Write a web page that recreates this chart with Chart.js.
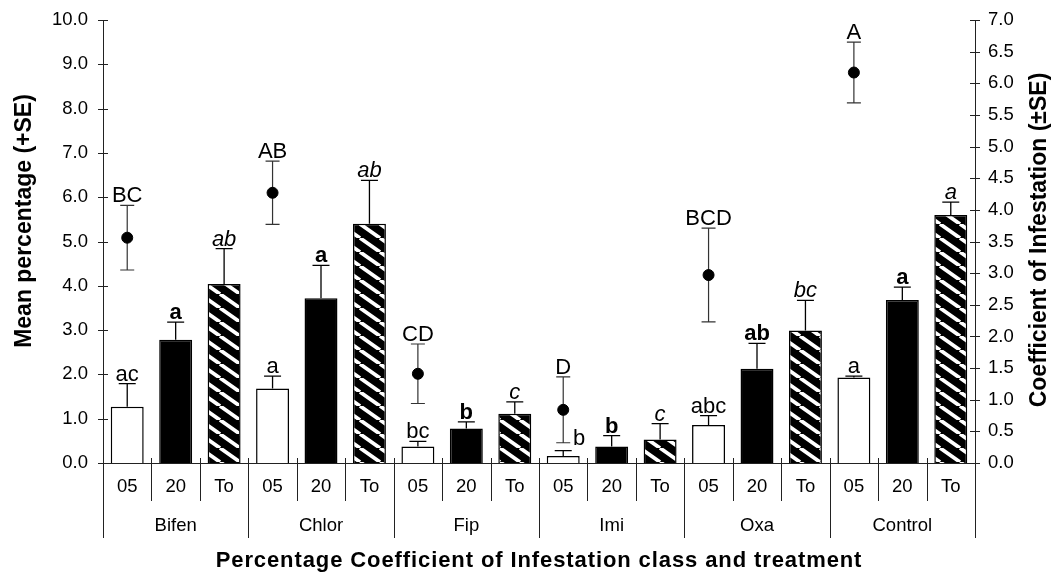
<!DOCTYPE html>
<html>
<head>
<meta charset="utf-8">
<script src="https://cdn.jsdelivr.net/npm/chart.js@4.4.1/dist/chart.umd.min.js"></script>
<style>
  body { margin: 0; background: #fff; }
  #wrap { width: 1054px; height: 577px; }
</style>
</head>
<body>
<div id="wrap"><canvas id="chart"></canvas></div>
<script>
// treatments and infestation classes
var treatments = ['Bifen', 'Chlor', 'Fip', 'Imi', 'Oxa', 'Control'];
var classes = ['05', '20', 'To'];

// mean percentage (left axis), one array per class
var mean05 = [1.27, 1.68, 0.37, 0.16, 0.86, 1.93];
var mean20 = [2.78, 3.72, 0.78, 0.37, 2.13, 3.68];
var meanTo = [4.04, 5.40, 1.11, 0.53, 2.99, 5.60];
var se05 = [0.52, 0.28, 0.12, 0.12, 0.21, 0.03];
var se20 = [0.40, 0.74, 0.15, 0.25, 0.57, 0.29];
var seTo = [0.80, 0.98, 0.27, 0.36, 0.68, 0.29];
var letters05 = ['ac', 'a', 'bc', 'b', 'abc', 'a'];
var letters20 = ['a', 'a', 'b', 'b', 'ab', 'a'];
var lettersTo = ['ab', 'ab', 'c', 'c', 'bc', 'a'];

// coefficient of infestation (right axis)
var coefMean = [3.56, 4.27, 1.41, 0.84, 2.97, 6.17];
var coefSE = [0.51, 0.50, 0.47, 0.52, 0.74, 0.48];
var coefLetters = ['BC', 'AB', 'CD', 'D', 'BCD', 'A'];

var leftTicks = { min: 0, max: 10, step: 1 };
var rightTicks = { min: 0, max: 7, step: 0.5 };

//build the 18 slot arrays
var labels = [], barVals = [], barErr = [], barLetters = [], barStyle = [], coefVals = [];
treatments.forEach(function (t, i) {
    var m = [mean05[i], mean20[i], meanTo[i]];
    var e = [se05[i], se20[i], seTo[i]];
    var l = [letters05[i], letters20[i], lettersTo[i]];
    classes.forEach(function (c, j) {
        labels.push(c);
        barVals.push(m[j]);
        barErr.push(e[j]);
        barLetters.push(l[j]);
        barStyle.push(j);
        coefVals.push(j == 0 ? coefMean[i] : null);
    });
});

function hatch() {
    var c = document.createElement('canvas');
    c.width = 20; c.height = 14;
    var g = c.getContext('2d');
    g.fillStyle = '#000';
    g.fillRect(0, 0, 20, 14);
    g.strokeStyle = '#fff';
    g.lineWidth = 3.8;
    g.beginPath();
    [-20, 0, 20].forEach(function (o) { g.moveTo(o, 0); g.lineTo(o + 20, 14); });
    g.stroke();
    return g.createPattern(c, 'repeat');
}

var fills = ['#fff', '#000', hatch()];
var font = 'Liberation Sans, Arial, sans-serif';
var fontStyles = ['', 'bold ', 'italic '];

function errBar(ctx, x, y1, y2, cap) {
    ctx.beginPath();
    ctx.moveTo(x, y1); ctx.lineTo(x, y2);
    ctx.moveTo(x - cap / 2, y2); ctx.lineTo(x + cap / 2, y2);
    ctx.stroke();
}

// keep the plot top fixed, no room reserved for half tick labels
function fitSide(width) {
    return function (s) {
        s.width = width;
        s.paddingTop = 0;
        s.paddingBottom = 0;
    };
}

var decor = {
    id: 'decor',
    beforeDatasetsDraw: function (chart) {
        var ctx = chart.ctx, y2 = chart.scales.y2;
        var pts = chart.getDatasetMeta(0).data;
        ctx.save();
        ctx.strokeStyle = '#333';
        ctx.lineWidth = 1.2;
        treatments.forEach(function (t, i) {
            var p = pts[i * 3];
            var top = y2.getPixelForValue(coefMean[i] + coefSE[i]);
            var bot = y2.getPixelForValue(coefMean[i] - coefSE[i]);
            errBar(ctx, p.x, p.y, top, 14);
            errBar(ctx, p.x, p.y, bot, 14);
        });
        ctx.restore();
    },
    afterDatasetsDraw: function (chart) {
        var ctx = chart.ctx, y = chart.scales.y, y2 = chart.scales.y2;
        var bars = chart.getDatasetMeta(1).data;
        var pts = chart.getDatasetMeta(0).data;
        // the Imi 05 letter sits beside the point error bar
        var shift = { 9: [16, -3] };
        ctx.save();
        ctx.strokeStyle = '#000';
        ctx.lineWidth = 1.3;
        ctx.fillStyle = '#000';
        ctx.textAlign = 'center';
        ctx.textBaseline = 'alphabetic';
        bars.forEach(function (b, i) {
            var top = y.getPixelForValue(barVals[i] + barErr[i]);
            errBar(ctx, b.x, b.y, top, 17);
            var s = shift[i] || [0, 0];
            ctx.font = fontStyles[barStyle[i]] + '22px ' + font;
            ctx.fillText(barLetters[i], b.x + s[0], top - 3 + s[1]);
        });
        ctx.font = '22px ' + font;
        treatments.forEach(function (t, i) {
            var p = pts[i * 3];
            var top = y2.getPixelForValue(coefMean[i] + coefSE[i]);
            ctx.fillText(coefLetters[i], p.x, top - 3);
        });
        ctx.restore();
    },
    afterDraw: function (chart) {
        var ctx = chart.ctx, a = chart.chartArea, x = chart.scales.x;
        ctx.save();
        ctx.strokeStyle = '#222';
        ctx.lineWidth = 1;
        // tick marks crossing both axes
        [['y', a.left], ['y2', a.right]].forEach(function (s) {
            var sc = chart.scales[s[0]];
            sc.ticks.forEach(function (t) {
                var py = Math.round(sc.getPixelForValue(t.value)) + 0.5;
                ctx.beginPath();
                ctx.moveTo(s[1] - 5, py); ctx.lineTo(s[1] + 5, py);
                ctx.stroke();
            });
        });
        // category dividers
        var slot = x.getPixelForValue(1) - x.getPixelForValue(0);
        for (var i = 0; i <= labels.length; i++) {
            var px = Math.round(x.getPixelForValue(i) - slot / 2) + 0.5;
            var longLine = i % 3 == 0;
            ctx.beginPath();
            ctx.moveTo(px, longLine && (i == 0 || i == labels.length) ? a.bottom : a.bottom - 5);
            ctx.lineTo(px, longLine ? a.bottom + 75 : a.bottom + 38);
            ctx.stroke();
        }
        ctx.fillStyle = '#000';
        ctx.textAlign = 'center';
        ctx.textBaseline = 'middle';
        ctx.font = '18.5px ' + font;
        labels.forEach(function (l, i) {
            ctx.fillText(l, x.getPixelForValue(i), a.bottom + 24);
        });
        treatments.forEach(function (t, i) {
            ctx.fillText(t, x.getPixelForValue(i * 3 + 1), a.bottom + 63);
        });
        // axis titles
        ctx.textBaseline = 'alphabetic';
        ctx.font = 'bold 22px ' + font;
        ctx.letterSpacing = '0.9px';
        ctx.fillText('Percentage Coefficient of Infestation class and treatment', (a.left + a.right) / 2, 567);
        ctx.letterSpacing = '0px';
        ctx.font = 'bold 23px ' + font;
        ctx.save();
        ctx.translate(31, 221);
        ctx.rotate(-Math.PI / 2);
        ctx.fillText('Mean percentage (+SE)', 0, 0);
        ctx.restore();
        ctx.save();
        ctx.translate(1046, 240);
        ctx.rotate(-Math.PI / 2);
        ctx.fillText('Coefficient of Infestation (\u00b1SE)', 0, 0);
        ctx.restore();
        ctx.restore();
    }
};

Chart.defaults.font.family = font;
Chart.defaults.font.size = 18.5;
Chart.defaults.color = '#000';

var ctx = document.getElementById('chart').getContext('2d');
new Chart(ctx, {
    data: {
        labels: labels,
        datasets: [{
            type: 'line',
            data: coefVals,
            yAxisID: 'y2',
            showLine: false,
            pointRadius: 5.5,
            pointBackgroundColor: '#000',
            pointBorderColor: '#000',
            order: 0
        }, {
            type: 'bar',
            data: barVals,
            yAxisID: 'y',
            backgroundColor: barStyle.map(function (s) { return fills[s]; }),
            borderColor: '#000',
            borderWidth: 1.5,
            barPercentage: 0.68,
            categoryPercentage: 1,
            order: 1
        }]
    },
    options: {
        responsive: true,
        maintainAspectRatio: false,
        animation: false,
        events: [],
        layout: { padding: { top: 20, left: 0, right: 0, bottom: 0 } },
        plugins: { legend: { display: false }, tooltip: { enabled: false } },
        scales: {
            x: {
                type: 'category',
                offset: true,
                grid: { display: false },
                border: { color: '#222' },
                ticks: { display: false },
                afterFit: function (s) { s.height = 114; }
            },
            y: {
                position: 'left',
                min: leftTicks.min, max: leftTicks.max,
                grid: { display: false, drawTicks: false },
                border: { color: '#222' },
                ticks: { stepSize: leftTicks.step, padding: 15, callback: function (v) { return v.toFixed(1); } },
                afterFit: fitSide(103)
            },
            y2: {
                position: 'right',
                min: rightTicks.min, max: rightTicks.max,
                grid: { display: false, drawTicks: false },
                border: { color: '#222' },
                ticks: { stepSize: rightTicks.step, padding: 13, callback: function (v) { return v.toFixed(1); } },
                afterFit: fitSide(79)
            }
        }
    },
    plugins: [decor]
});
</script>
</body>
</html>
